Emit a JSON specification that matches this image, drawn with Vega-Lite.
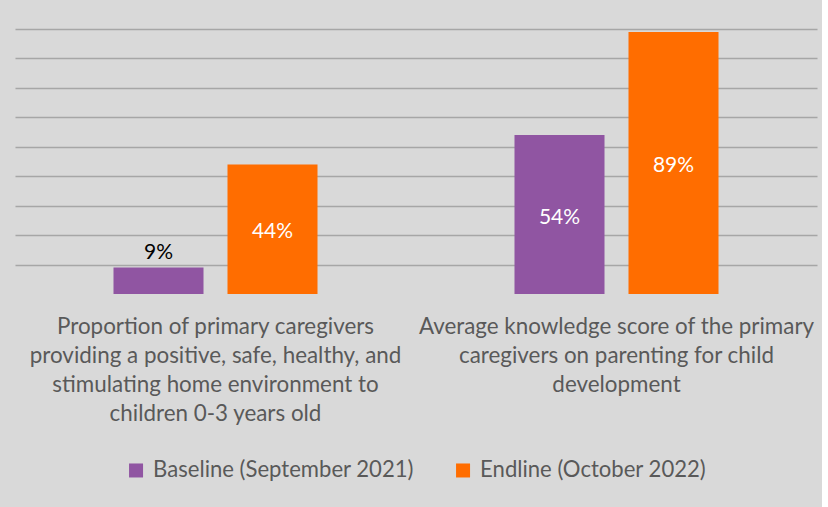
{
  "$schema": "https://vega.github.io/schema/vega-lite/v6.json",
  "width": 802,
  "height": 265,
  "autosize": {"type": "none"},
  "padding": {"left": 15, "top": 29, "right": 5, "bottom": 213},
  "background": "#d9d9d9",
  "data": {
    "values": [
      {"measure": "Proportion of primary caregivers|providing a positive, safe, healthy, and|stimulating home environment to|children 0-3 years old", "series": "Baseline (September 2021)", "value": 0.09, "label": "9%"},
      {"measure": "Proportion of primary caregivers|providing a positive, safe, healthy, and|stimulating home environment to|children 0-3 years old", "series": "Endline (October 2022)", "value": 0.44, "label": "44%"},
      {"measure": "Average knowledge score of the primary|caregivers on parenting for child|development", "series": "Baseline (September 2021)", "value": 0.54, "label": "54%"},
      {"measure": "Average knowledge score of the primary|caregivers on parenting for child|development", "series": "Endline (October 2022)", "value": 0.89, "label": "89%"}
    ]
  },
  "encoding": {
    "x": {
      "field": "measure",
      "type": "nominal",
      "sort": null,
      "scale": {"paddingInner": 0, "paddingOuter": 0},
      "axis": {
        "title": null,
        "domain": false,
        "ticks": false,
        "labelAngle": 0,
        "labelExpr": "split(datum.label, '|')",
        "labelFont": "Lato",
        "labelFontSize": 22.4,
        "labelLineHeight": 29,
        "labelColor": "#595959",
        "labelPadding": 21,
        "labelLimit": 1000,
        "labelOverlap": false,
        "labelBaseline": "top"
      }
    },
    "xOffset": {
      "field": "series",
      "type": "nominal",
      "sort": null,
      "scale": {"paddingInner": 0.2105, "paddingOuter": 0.864}
    },
    "y": {
      "field": "value",
      "type": "quantitative",
      "scale": {"domain": [0, 0.9], "nice": false, "zero": true},
      "axis": {
        "title": null,
        "labels": false,
        "ticks": false,
        "domain": false,
        "grid": true,
        "values": [0.1, 0.2, 0.3, 0.4, 0.5, 0.6, 0.7, 0.8, 0.9],
        "gridColor": "#a6a6a6",
        "gridWidth": 1.5
      }
    }
  },
  "layer": [
    {
      "mark": {"type": "bar"},
      "encoding": {
        "color": {
          "field": "series",
          "type": "nominal",
          "sort": null,
          "scale": {"range": ["#9055A2", "#FF6D00"]},
          "legend": {
            "orient": "bottom",
            "direction": "horizontal",
            "title": null,
            "symbolType": "square",
            "symbolSize": 196,
            "symbolStrokeWidth": 0,
            "labelFont": "Lato",
            "labelFontSize": 22.1,
            "labelColor": "#595959",
            "labelOffset": 6,
            "labelLimit": 1000,
            "columnPadding": 38,
            "offset": 34
          }
        }
      }
    },
    {
      "transform": [
        {"filter": "datum.value >= 0.2"},
        {"calculate": "datum.value / 2", "as": "mid"}
      ],
      "mark": {"type": "text", "color": "#ffffff", "font": "Lato", "fontSize": 21, "baseline": "middle", "dy": 3},
      "encoding": {
        "y": {"field": "mid", "type": "quantitative"},
        "text": {"field": "label"}
      }
    },
    {
      "transform": [{"filter": "datum.value < 0.2"}],
      "mark": {"type": "text", "color": "#000000", "font": "Lato", "fontSize": 21, "baseline": "bottom", "dy": -5},
      "encoding": {
        "text": {"field": "label"}
      }
    }
  ],
  "config": {
    "view": {"stroke": null},
    "legend": {"layout": {"bottom": {"anchor": "middle"}}}
  }
}
